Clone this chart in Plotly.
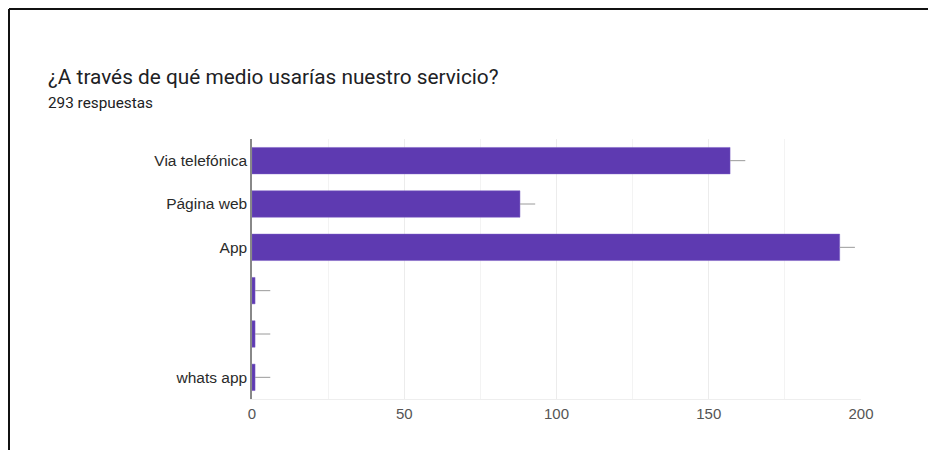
import plotly.graph_objects as go

categories = ["Via telefónica", "Página web", "App", " ", "  ", "whats app"]
values = [157, 88, 193, 1, 1, 1]
x_ticks = [0, 50, 100, 150, 200]
leader = [5, 5, 5, 5, 5, 5]

title = "¿A través de qué medio usarías nuestro servicio?"
subtitle = "293 respuestas"

OFF = 8  # page body margin
W, H = 936, 450
L, T = 252 - OFF, 139 - OFF
pw, ph = 609, 260
R = W - L - pw
B = H - T - ph


def px_x(p):
    return (p - OFF - L) / pw


def px_y(p):
    return 1 - (p - OFF - T) / ph


fig = go.Figure()
fig.add_trace(go.Bar(
    x=values, y=categories, orientation="h",
    marker=dict(color="#5e3ab1", line=dict(color="#7a5cc4", width=0.5)),
    error_x=dict(type="data", symmetric=False, array=leader,
                 arrayminus=[0] * len(leader), color="#9a9a9a",
                 thickness=1, width=0),
    hoverinfo="x+y",
))

fig.update_layout(
    width=W, height=H,
    margin=dict(l=L, r=R, t=T, b=B),
    paper_bgcolor="white", plot_bgcolor="white",
    bargap=0.39,
    showlegend=False,
    font=dict(family="Liberation Sans, Arial, sans-serif", color="#333"),
    xaxis=dict(range=[0, 200], tickvals=x_ticks, ticktext=[str(v) for v in x_ticks],
               showgrid=True, gridcolor="#ececec", gridwidth=1,
               minor=dict(dtick=25, showgrid=True, gridcolor="#f3f3f3", tick0=0),
               zeroline=False, showline=True, linecolor="#eeeeee",
               tickfont=dict(size=15, color="#555"), ticks="", ticklabelstandoff=1,
               fixedrange=True),
    yaxis=dict(categoryorder="array", categoryarray=categories,
               autorange="reversed", showgrid=False, zeroline=False,
               showline=True, linecolor="#888", linewidth=1.5,
               tickfont=dict(size=15.5, color="#2a2a2a"), ticks="",
               ticklabelstandoff=0, fixedrange=True),
    annotations=[
        dict(text=title, x=px_x(46), y=px_y(77), xref="paper", yref="paper",
             xanchor="left", yanchor="middle", showarrow=False,
             font=dict(family="Roboto, sans-serif", size=20.8, color="#202124")),
        dict(text=subtitle, x=px_x(46), y=px_y(103), xref="paper", yref="paper",
             xanchor="left", yanchor="middle", showarrow=False,
             font=dict(family="Roboto, sans-serif", size=15.3, color="#202124")),
    ],
    shapes=[
        dict(type="line", xref="paper", yref="paper",
             x0=px_x(9), x1=px_x(950), y0=px_y(9), y1=px_y(9),
             line=dict(color="#111", width=2)),
        dict(type="line", xref="paper", yref="paper",
             x0=px_x(9), x1=px_x(9), y0=px_y(9), y1=px_y(470),
             line=dict(color="#111", width=2)),
    ],
)

fig.write_html("out.html")
